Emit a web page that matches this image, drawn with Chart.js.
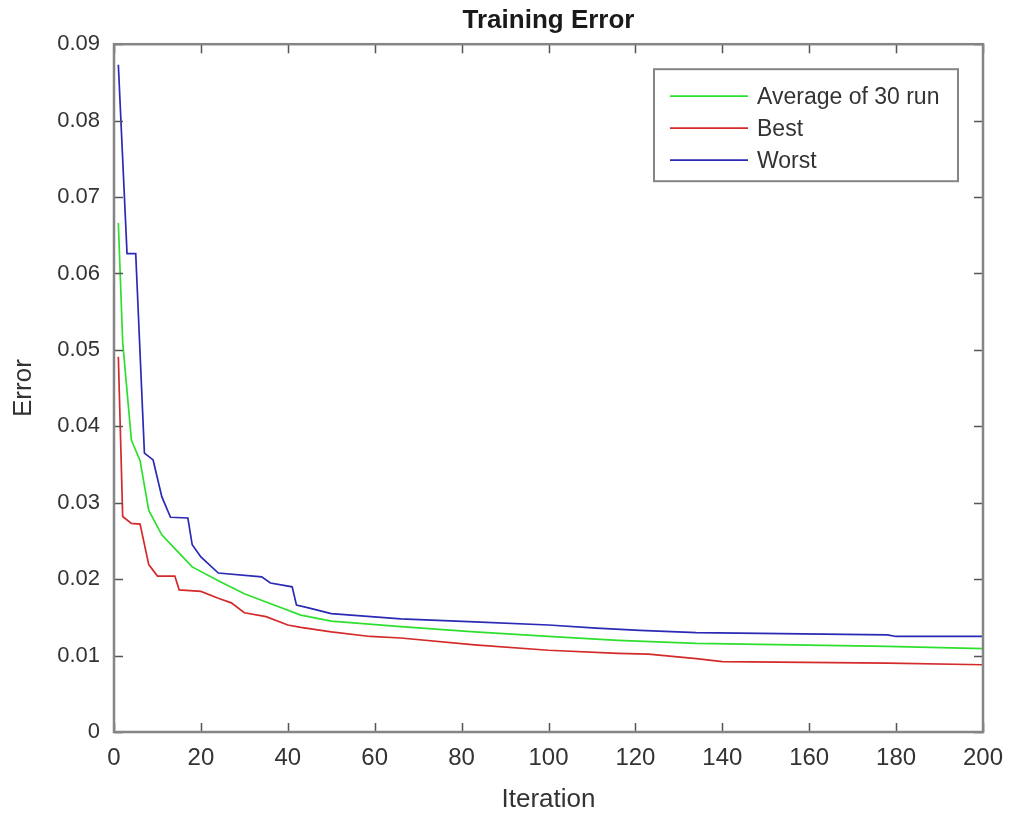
<!DOCTYPE html>
<html>
<head>
<meta charset="utf-8">
<script src="https://cdn.jsdelivr.net/npm/chart.js@4.4.1/dist/chart.umd.min.js"></script>
<style>
  html, body { margin: 0; padding: 0; background: #fff; }
  #wrap { width: 1009px; height: 818px; }
</style>
</head>
<body>
<div id="wrap"><canvas id="chart-training"></canvas></div>
<script>
// values
const avgIter = [1, 2, 3, 4, 6, 8, 11, 14, 18, 24, 30, 35, 43, 50, 66, 83, 100, 116, 134, 178, 200]
const avgErr = [0.0666, 0.0510, 0.0446, 0.0382, 0.0355, 0.0290, 0.0258, 0.0240, 0.0216, 0.0198, 0.0181, 0.0170, 0.0153, 0.0145, 0.0138, 0.0131, 0.0125, 0.0120, 0.0116, 0.0112, 0.0109]

const bestIter = [1, 2, 4, 6, 8, 10, 14, 15, 20, 24, 27, 30, 35, 40, 43, 50, 59, 66, 83, 100, 116, 123, 134, 140, 178, 200]
const bestErr = [0.0491, 0.0282, 0.0273, 0.0272, 0.0219, 0.0204, 0.0204, 0.0186, 0.0184, 0.0175, 0.0169, 0.0156, 0.0151, 0.0140, 0.0137, 0.0131, 0.0125, 0.0123, 0.0114, 0.0107, 0.0103, 0.0102, 0.0096, 0.0092, 0.0090, 0.0088]

const worstIter = [1, 3, 5, 7, 9, 11, 13, 17, 18, 20, 24, 34, 36, 41, 42, 45, 50, 66, 83, 100, 111, 121, 134, 178, 180, 200]
const worstErr = [0.0873, 0.0626, 0.0626, 0.0365, 0.0356, 0.0308, 0.0281, 0.0280, 0.0245, 0.0229, 0.0208, 0.0203, 0.0195, 0.0190, 0.0166, 0.0162, 0.0155, 0.0148, 0.0144, 0.0140, 0.0136, 0.0133, 0.0130, 0.0127, 0.0125, 0.0125]

const xTickLabels = ["0", "20", "40", "60", "80", "100", "120", "140", "160", "180", "200"]
const yTickLabels = ["0", "0.01", "0.02", "0.03", "0.04", "0.05", "0.06", "0.07", "0.08", "0.09"]

const pts = (xs, ys) => xs.map((x, i) => ({ x, y: ys[i] }))

const FONT = "'Liberation Sans', Arial, Helvetica, sans-serif"
const TXT = "#333333"

// matlab style box: frame, inward ticks on all sides, legend inside the axes
const matlabBox = {
  id: "matlabBox",
  afterDraw(chart) {
    const { ctx, chartArea: a, scales: { x, y } } = chart
    ctx.save()
    ctx.strokeStyle = "#555555"
    ctx.lineWidth = 1.5
    const tl = 9
    x.ticks.forEach(t => {
      const px = Math.round(x.getPixelForValue(t.value)) + 0.5
      ctx.beginPath()
      ctx.moveTo(px, a.bottom); ctx.lineTo(px, a.bottom - tl)
      ctx.moveTo(px, a.top); ctx.lineTo(px, a.top + tl)
      ctx.stroke()
    })
    y.ticks.forEach(t => {
      const py = Math.round(y.getPixelForValue(t.value)) + 0.5
      ctx.beginPath()
      ctx.moveTo(a.left, py); ctx.lineTo(a.left + tl, py)
      ctx.moveTo(a.right, py); ctx.lineTo(a.right - tl, py)
      ctx.stroke()
    })
    ctx.strokeStyle = "#858585"
    ctx.lineWidth = 2.5
    ctx.strokeRect(a.left, a.top, a.right - a.left, a.bottom - a.top)

    // legend
    const bw = 304, bh = 112
    const bx = a.right - 25 - bw, by = a.top + 25
    ctx.fillStyle = "#ffffff"
    ctx.fillRect(bx, by, bw, bh)
    ctx.strokeStyle = "#858585"
    ctx.lineWidth = 2
    ctx.strokeRect(bx, by, bw, bh)
    ctx.font = "23px " + FONT
    ctx.textBaseline = "middle"
    chart.data.datasets.forEach((ds, i) => {
      const ry = by + 27 + i * 32
      ctx.strokeStyle = ds.borderColor
      ctx.lineWidth = 1.8
      ctx.beginPath()
      ctx.moveTo(bx + 16, ry); ctx.lineTo(bx + 94, ry)
      ctx.stroke()
      ctx.fillStyle = TXT
      ctx.fillText(ds.label, bx + 103, ry + 1)
    })
    ctx.restore()
  }
}

new Chart(document.getElementById("chart-training"), {
  type: "line",
  data: {
    datasets: [
      { label: "Average of 30 run", data: pts(avgIter, avgErr), borderColor: "#2ee02e" },
      { label: "Best", data: pts(bestIter, bestErr), borderColor: "#d42a2a" },
      { label: "Worst", data: pts(worstIter, worstErr), borderColor: "#2a2ab4" }
    ]
  },
  options: {
    responsive: true,
    maintainAspectRatio: false,
    animation: false,
    layout: { padding: 0 },
    elements: {
      line: { borderWidth: 1.7, tension: 0, fill: false },
      point: { radius: 0, hoverRadius: 0 }
    },
    plugins: {
      legend: { display: false },
      tooltip: { enabled: false },
      title: {
        display: true,
        text: "Training Error",
        fullSize: false,
        color: "#1a1a1a",
        font: { family: FONT, size: 26, weight: "bold" },
        padding: { top: 5, bottom: 8 }
      }
    },
    scales: {
      x: {
        type: "linear",
        min: 0, max: 200,
        afterFit: s => { s.height = 86; s.paddingRight = 26; s.paddingLeft = 0 },
        grid: { display: false, drawTicks: false },
        border: { display: false },
        ticks: {
          stepSize: 20,
          padding: 12,
          color: TXT,
          font: { family: FONT, size: 24 },
          maxRotation: 0,
          callback: (v, i) => xTickLabels[i]
        },
        title: {
          display: true,
          text: "Iteration",
          color: TXT,
          font: { family: FONT, size: 26 },
          padding: { top: 0, bottom: 3 }
        }
      },
      y: {
        min: 0, max: 0.09,
        afterFit: s => { s.width = 114 },
        grid: { display: false, drawTicks: false },
        border: { display: false },
        ticks: {
          stepSize: 0.01,
          padding: 14,
          color: TXT,
          font: { family: FONT, size: 22 },
          callback: (v, i) => yTickLabels[i]
        },
        title: {
          display: true,
          text: "Error",
          color: TXT,
          font: { family: FONT, size: 26 },
          padding: { top: 8, bottom: 0 }
        }
      }
    }
  },
  plugins: [matlabBox]
})
</script>
</body>
</html>
